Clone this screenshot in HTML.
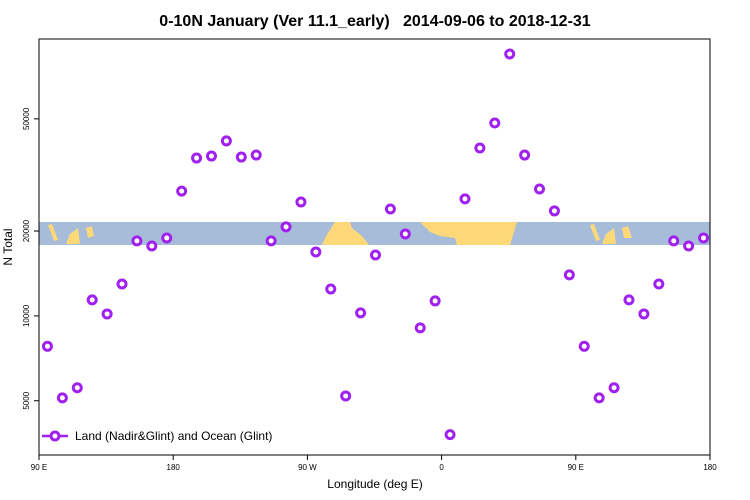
<!DOCTYPE html>
<html><head><meta charset="utf-8"><style>
body{margin:0;background:#fff;}
svg{display:block;font-family:"Liberation Sans",sans-serif;}
</style></head><body>
<svg id="chart" width="750" height="500" viewBox="0 0 750 500">
<text x="375" y="26" text-anchor="middle" font-size="16" font-weight="bold">0-10N January (Ver 11.1_early)&#160;&#160;&#160;2014-09-06 to 2018-12-31</text>
<g>
<rect x="39" y="222" width="671" height="23" fill="#a7bcd9"/>
<polygon points="335,222 350,222 352,228 362,236 369,245 322,245 326,236" fill="#ffd87a"/>
<polygon points="420,222 517,222 514,232 510,245 457,245 455,238 440,236 430,232" fill="#ffd87a"/>
<polygon points="48,225 52,224 58,240 54,241" fill="#ffd87a"/>
<polygon points="70,234 78,228 80,244 66,244" fill="#ffd87a"/>
<polygon points="86,228 92,226 94,236 88,238" fill="#ffd87a"/>
<polygon points="590,225 594,224 600,240 596,241" fill="#ffd87a"/>
<polygon points="606,234 614,228 616,244 602,244" fill="#ffd87a"/>
<polygon points="622,228 628,226 632,238 624,238" fill="#ffd87a"/>
</g>
<rect x="39" y="39" width="671" height="416" fill="none" stroke="#000" stroke-width="1"/>
<g id="xaxis"></g>
<g id="yaxis"></g>
<g id="series"></g>
<text x="375" y="488" text-anchor="middle" font-size="12">Longitude (deg E)</text>
<text x="0" y="0" transform="translate(12,247) rotate(-90)" text-anchor="middle" font-size="12">N Total</text>
<g>
<line x1="42" y1="436" x2="68" y2="436" stroke="#a020f0" stroke-width="2.5"/>
<circle cx="55" cy="436" r="4" fill="#fff" stroke="#a020f0" stroke-width="3"/>
<text x="75" y="440" font-size="12">Land (Nadir&amp;Glint) and Ocean (Glint)</text>
</g>
</svg>
<script>
const lons=[95,105,115,125,135,145,155,165,175,185,195,205,215,225,235,245,255,265,275,285,295,305,315,325,335,345,355,365,375,385,395,405,415,425,435,445,455,465,475,485,495,505,515,525,535];
const counts=[7800,5120,5560,11400,10160,12980,18450,17700,18900,27700,36300,36900,41750,36600,37200,18450,20700,25360,16860,12460,5200,10250,16450,23950,19530,9070,11300,3790,26000,39400,48340,84900,37200,28200,23570,13980,7800,5120,5560,11400,10160,12980,18450,17700,18900];
const xTickVals=[90,180,270,360,450,540];
const xTickLabels=["90 E","180","90 W","0","90 E","180"];
const yTickVals=[5000,10000,20000,50000];
const yTickLabels=["5000","10000","20000","50000"];
const X0=40,X1=711,Y0=455,Y1=39,XMIN=90,XMAX=540,YMIN=3210,YMAX=96000;
function xs(v){return X0+(v-XMIN)/(XMAX-XMIN)*(X1-X0);}
function ys(v){return Y0-(Math.log10(v)-Math.log10(YMIN))/(Math.log10(YMAX)-Math.log10(YMIN))*(Y0-Y1);}
const NS="http://www.w3.org/2000/svg";
function mk(t,a,p){const e=document.createElementNS(NS,t);for(const k in a)e.setAttribute(k,a[k]);p.appendChild(e);return e;}
const xa=document.getElementById('xaxis');
xTickVals.forEach((v,i)=>{
 const l=mk('line',{x1:xs(v)-1,x2:xs(v)-1,y1:455,y2:460,stroke:'#000'},xa);
 
 
 const t=mk('text',{x:xs(v)-1,y:470,'text-anchor':'middle','font-size':'8'},xa);
 t.textContent=xTickLabels[i];
 
 
});
const ya=document.getElementById('yaxis');
yTickVals.forEach((v,i)=>{
 const l=mk('line',{x1:34,x2:39,y1:ys(v),y2:ys(v),stroke:'#000'},ya);
 
 
 const t=mk('text',{x:0,y:0,transform:`translate(29,${ys(v)}) rotate(-90)`,'text-anchor':'middle','font-size':'8'},ya);
 t.textContent=yTickLabels[i];
 
 
});
const sg=document.getElementById('series');
lons.forEach((v,i)=>{
 const c=mk('circle',{cx:xs(v),cy:ys(counts[i]),r:4,fill:'#fff',stroke:'#a020f0','stroke-width':3},sg);
 
 
});
</script>
</body></html>
